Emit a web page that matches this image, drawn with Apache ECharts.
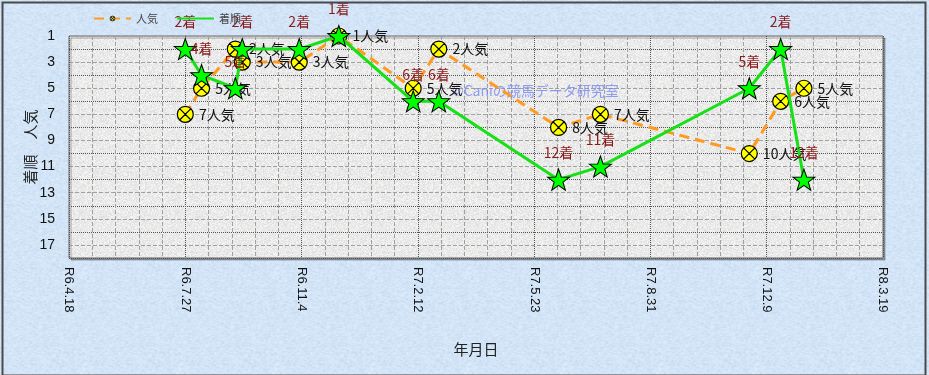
<!DOCTYPE html>
<html><head><meta charset="utf-8">
<script src="https://cdn.jsdelivr.net/npm/echarts@6/dist/echarts.min.js"></script>
<style>html,body{margin:0;padding:0;background:#d4e5f7}#c{width:929px;height:375px}</style>
</head><body><div id="c"></div>
<script>
// ---- data ----
const raceDates = ['2024-07-27','2024-08-10','2024-09-08','2024-09-14','2024-11-02','2024-12-06','2025-02-08','2025-03-02','2025-06-13','2025-07-19','2025-11-24','2025-12-21','2026-01-10'];
const popularity = [7, 5, 2, 3, 3, 1, 5, 2, 8, 7, 10, 6, 5];
const finish = [2, 4, 5, 2, 2, 1, 6, 6, 12, 11, 5, 2, 12];
const xStartDate = '2024-04-18';
const xEndDate = '2026-03-19';
const xTickDays = 100;
const yMin = 1, yMax = 18;
const seriesNames = ['人気', '着順'];

// ---- helpers ----
const DAY = 86400000;
function utc(s){ const p = s.split('-').map(Number); return Date.UTC(p[0], p[1]-1, p[2]); }
const base = utc(xStartDate);
function toDay(s){ return Math.round((utc(s) - base) / DAY); }
function reiwa(d){ const dt = new Date(base + d * DAY); return 'R' + (dt.getUTCFullYear() - 2018) + '.' + (dt.getUTCMonth() + 1) + '.' + dt.getUTCDate(); }

// deterministic texture (decoration only)
function hash(x, y){ const s = Math.sin(x * 12.9898 + y * 78.233) * 43758.5453; return s - Math.floor(s); }
function texture(r, g, b, amp, size, smooth){
  const c = document.createElement('canvas'); c.width = c.height = size;
  const ctx = c.getContext('2d'); const img = ctx.createImageData(size, size);
  for (let y = 0; y < size; y++) for (let x = 0; x < size; x++) {
    let n = hash(x, y);
    if (smooth) n = (n + hash((x+1)%size, y) + hash(x, (y+1)%size) + hash((x+size-1)%size, y)) / 4;
    const v = (n - 0.5) * amp; const k = (y * size + x) * 4;
    img.data[k] = r + v; img.data[k+1] = g + v; img.data[k+2] = b + v * 0.6; img.data[k+3] = 255;
  }
  ctx.putImageData(img, 0, 0); return c;
}
const bgPattern = {image: texture(210, 228, 246, 26, 96, true), repeat: 'repeat'};
const plotPattern = {image: texture(234, 234, 234, 26, 96, false), repeat: 'repeat'};

const starPath = 'path://M10,0 L12.35,6.76 L19.51,6.91 L13.8,11.24 L15.88,18.09 L10,14 L4.12,18.09 L6.2,11.24 L0.49,6.91 L7.65,6.76 Z';
const circXPath = 'path://M10,0 A10,10 0 1,1 9.99,0 Z M2.93,2.93 L17.07,17.07 M17.07,2.93 L2.93,17.07';

const jp = '"Noto Sans CJK JP", "Liberation Sans", sans-serif';

const chart = echarts.init(document.getElementById('c'), null, {renderer: 'canvas'});
chart.setOption({
  backgroundColor: bgPattern,
  animation: false,
  textStyle: {fontFamily: jp},
  legend: {
    left: 88, top: 8, itemWidth: 37, itemHeight: 6, itemGap: 18,
    textStyle: {fontSize: 11, color: '#444', fontFamily: jp},
    data: [
      {name: seriesNames[0], itemStyle: {color: '#c8c800', borderColor: '#333', borderWidth: 1}},
      {name: seriesNames[1], itemStyle: {opacity: 0}}
    ]
  },
  grid: {
    left: 69, top: 36, width: 814, height: 222, show: true,
    backgroundColor: plotPattern, borderColor: '#666', borderWidth: 1,
    shadowColor: 'rgba(0,0,0,0.3)', shadowOffsetX: 2, shadowOffsetY: 2, shadowBlur: 0
  },
  xAxis: {
    type: 'value', min: 0, max: toDay(xEndDate), interval: xTickDays,
    name: '年月日', nameLocation: 'middle', nameGap: 84, nameMoveOverlap: false,
    nameTextStyle: {fontSize: 15, color: '#222', fontFamily: jp},
    axisLine: {show: false}, axisTick: {show: false},
    axisLabel: {rotate: -90, margin: 9, fontSize: 13, color: '#111', fontFamily: '"Liberation Sans", Arial, sans-serif', formatter: v => reiwa(v)},
    splitLine: {show: true, lineStyle: {color: '#555', type: 'dotted', width: 1}},
    minorTick: {show: false, splitNumber: 5},
    minorSplitLine: {show: true, lineStyle: {color: '#a0a0a0', type: 'dashed', width: 1}}
  },
  yAxis: [{
    type: 'value', inverse: true, min: yMin, max: yMax, interval: 1,
    name: '着順　人気', nameLocation: 'middle', nameGap: 31, nameMoveOverlap: false,
    nameTextStyle: {fontSize: 15, color: '#222', fontFamily: jp},
    axisLine: {show: false}, axisTick: {show: false},
    axisLabel: {margin: 14, fontSize: 14, color: '#111', fontFamily: '"Liberation Sans", Arial, sans-serif', formatter: v => (v % 2 === 1 ? String(v) : '')},
    splitLine: {show: true, lineStyle: {color: ['#a0a0a0', 'rgba(0,0,0,0)'], type: 'dashed', width: 1}}
  }, {
    type: 'value', inverse: true, min: yMin, max: yMax, interval: 1, position: 'left',
    axisLine: {show: false}, axisTick: {show: false}, axisLabel: {show: false},
    splitLine: {show: true, lineStyle: {color: ['rgba(0,0,0,0)', '#555'], type: 'dotted', width: 1}}
  }],
  graphic: [
    {type: 'text', left: 452, top: 84, z: 1, silent: true,
     style: {text: '©Caniの競馬データ研究室', fill: 'rgba(120,135,240,0.8)', font: '14px "Noto Sans CJK JP"'}},
    {type: 'rect', left: 0, top: 0, z: 100, silent: true,
     shape: {x: 0, y: 0, width: 923, height: 373},
     style: {fill: 'none', stroke: '#4a4a4a', lineWidth: 2}}
  ],
  series: [{
    name: seriesNames[0], type: 'line', clip: false,
    data: raceDates.map((d, i) => [toDay(d), popularity[i]]),
    symbol: circXPath, symbolSize: 16,
    itemStyle: {color: '#ffff00', borderColor: '#000', borderWidth: 1.2},
    lineStyle: {color: '#ff9a1f', width: 3, type: [10, 6]},
    label: {show: true, position: 'right', distance: 5, color: '#111', fontSize: 14, fontFamily: jp,
            formatter: p => p.value[1] + '人気'},
    z: 2
  }, {
    name: seriesNames[1], type: 'line', clip: false,
    data: raceDates.map((d, i) => [toDay(d), finish[i]]),
    symbol: starPath, symbolSize: [22, 21],
    itemStyle: {color: '#00ff00', borderColor: '#000', borderWidth: 1},
    lineStyle: {color: '#16e016', width: 3},
    label: {show: true, position: 'top', distance: 9, color: '#8b1a1a', fontSize: 14, fontFamily: jp,
            formatter: p => p.value[1] + '着'},
    z: 3
  }]
});
</script>
</body></html>
